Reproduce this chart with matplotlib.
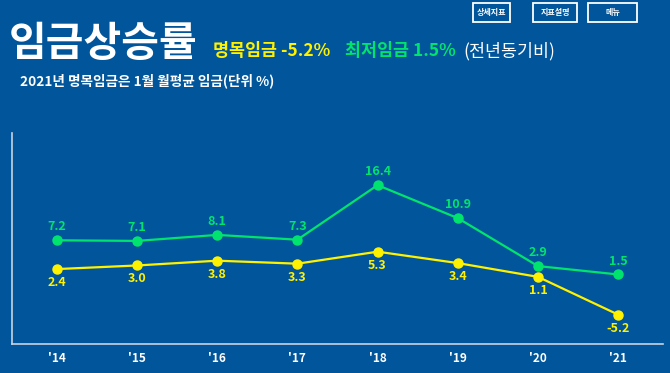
import matplotlib
matplotlib.use("Agg")
import matplotlib.pyplot as plt
from matplotlib.patches import Rectangle

plt.rcParams['font.family'] = ['Noto Sans CJK KR', 'DejaVu Sans']

years = ["'14", "'15", "'16", "'17", "'18", "'19", "'20", "'21"]
min_wage = [7.2, 7.1, 8.1, 7.3, 16.4, 10.9, 2.9, 1.5]
nominal_wage = [2.4, 3.0, 3.8, 3.3, 5.3, 3.4, 1.1, -5.2]
buttons = ["상세지표", "지표설명", "메뉴"]

BG = '#01559A'
GREEN = '#00E46E'
YELLOW = '#FFF200'

fig = plt.figure(figsize=(6.7, 3.73), dpi=100, facecolor=BG)
ax = fig.add_axes([12/670, 1 - 344/373, (663 - 12)/670, (344 - 133)/373])
ax.set_facecolor(BG)

x = list(range(len(years)))
ax.plot(x, min_wage, color=GREEN, lw=1.6, marker='o', ms=6.5, zorder=3)
ax.plot(x, nominal_wage, color=YELLOW, lw=1.6, marker='o', ms=6.5, zorder=3)

for i, v in enumerate(min_wage):
    ax.annotate(f"{v:.1f}", (i, v), xytext=(0, 5), textcoords='offset points',
                ha='center', va='bottom', color=GREEN, fontsize=9, fontweight='bold')
for i, v in enumerate(nominal_wage):
    ax.annotate(f"{v:.1f}", (i, v), xytext=(0, -5), textcoords='offset points',
                ha='center', va='top', color=YELLOW, fontsize=9, fontweight='bold')

ax.set_xlim(-0.56, 7.56)
ax.set_ylim(-10.1, 25.1)
ax.set_xticks(x)
ax.set_xticklabels(years, color='white', fontsize=8.5, fontweight='bold')
ax.tick_params(axis='x', length=0, pad=6)
ax.set_yticks([])
for s in ['top', 'right']:
    ax.spines[s].set_visible(False)
for s in ['left', 'bottom']:
    ax.spines[s].set_color('#C9D3E0')
    ax.spines[s].set_linewidth(1.2)

# Title texts
fig.text(9/670, 1 - 56/373, "임금상승률", color='white', fontsize=29.5, fontweight='bold', va='baseline')
fig.text(213/670, 1 - 56/373, "명목임금 -5.2%", color=YELLOW, fontsize=12.5, fontweight='bold', va='baseline')
fig.text(345/670, 1 - 56/373, "최저임금 1.5%", color=GREEN, fontsize=12.5, fontweight='bold', va='baseline')
fig.text(463/670, 1 - 56/373, "(전년동기비)", color='white', fontsize=12.5, va='baseline')
fig.text(20/670, 1 - 85/373, "2021년 명목임금은 1월 월평균 임금(단위 %)", color='white', fontsize=9.8, fontweight='bold', va='baseline')

# Buttons
boxes = [(473, 510), (533, 577), (588, 637)]
for (x0, x1), label in zip(boxes, buttons):
    r = Rectangle((x0/670, 1 - 22/373), (x1 - x0)/670, 19/373, transform=fig.transFigure,
                  facecolor=BG, edgecolor='white', lw=1.3)
    fig.patches.append(r)
    fig.text((x0 + x1)/2/670, 1 - 12.5/373, label, color='white', fontsize=5.8,
             fontweight='bold', ha='center', va='center')

fig.savefig("out.png", dpi=100, facecolor=BG)
